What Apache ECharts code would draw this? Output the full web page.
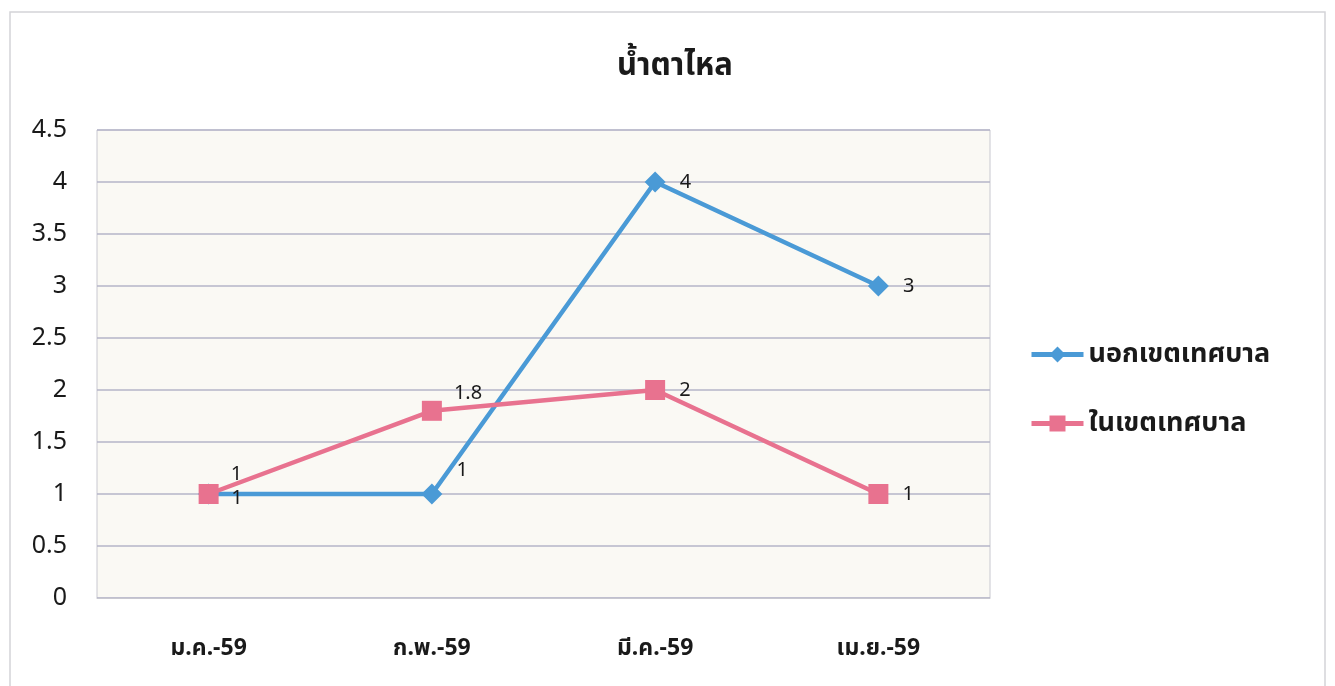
<!DOCTYPE html>
<html><head><meta charset="utf-8">
<script src="https://cdn.jsdelivr.net/npm/echarts@6/dist/echarts.min.js"></script>
<style>html,body{margin:0;padding:0;background:#fff}#c{width:1335px;height:686px}</style>
</head><body><div id="c"></div>
<script>
const title = 'น้ำตาไหล';
const categories = ['ม.ค.-59', 'ก.พ.-59', 'มี.ค.-59', 'เม.ย.-59'];
const outsideName = 'นอกเขตเทศบาล';
const outsideValues = [1, 1, 4, 3];
const insideName = 'ในเขตเทศบาล';
const insideValues = [1, 1.8, 2, 1];
const yTicks = [0, 0.5, 1, 1.5, 2, 2.5, 3, 3.5, 4, 4.5];

// label placement per point (style only)
const outsideLabelOffsets = [[0, 4], [2, -24], [2, 0], [2, 0]];
const insideLabelOffsets = [[0, -20], [0, -18], [2, 0], [2, 0]];

const mk = (vals, offs) => vals.map((v, i) => ({ value: v, label: { offset: offs[i] } }));

const font = '"Noto Sans", "Noto Sans Thai", "Noto Sans CJK SC", sans-serif';
const chart = echarts.init(document.getElementById('c'));
chart.setOption({
  backgroundColor: '#ffffff',
  animation: false,
  textStyle: { fontFamily: font },
  graphic: [{
    type: 'rect', shape: { x: 10, y: 12, width: 1315, height: 690 },
    style: { fill: 'none', stroke: '#d4d4d8', lineWidth: 1.5 }, silent: true
  }],
  title: {
    text: title, left: 670, top: 46, textAlign: 'center',
    textStyle: { fontFamily: font, fontSize: 31, fontWeight: 'bold', color: '#1a1a1a' }
  },
  legend: {
    orient: 'vertical', left: 1024, top: 336, itemGap: 42,
    itemWidth: 52, itemHeight: 20, itemStyle: {},
    lineStyle: { width: 5 },
    textStyle: { fontFamily: font, fontSize: 27, fontWeight: 'bold', color: '#1a1a1a' },
    data: [outsideName, insideName]
  },
  grid: {
    left: 97, right: 345, top: 130, bottom: 88, show: true,
    backgroundColor: '#faf9f4', borderColor: '#c8c8d0', borderWidth: 1
  },
  xAxis: {
    type: 'category', data: categories, boundaryGap: true,
    axisLine: { show: true, lineStyle: { color: '#c8c8d0' } },
    axisTick: { show: false },
    axisLabel: { fontFamily: font, fontSize: 23, fontWeight: 'bold', color: '#1a1a1a', margin: 39 }
  },
  yAxis: {
    type: 'value', min: 0, max: 4.5, interval: 0.5,
    axisLine: { show: false }, axisTick: { show: false },
    splitLine: { lineStyle: { color: '#b4b4c8', width: 1.5 } },
    axisLabel: { fontFamily: font, fontSize: 25, color: '#1a1a1a', margin: 30,
      formatter: v => String(yTicks.find(t => Math.abs(t - v) < 1e-9) ?? v) }
  },
  series: [
    {
      name: outsideName, type: 'line', data: mk(outsideValues, outsideLabelOffsets),
      symbol: 'diamond', symbolSize: 21,
      lineStyle: { color: '#4a9ad6', width: 4.5 },
      itemStyle: { color: '#4a9ad6' },
      label: { show: true, position: 'right', distance: 12, fontFamily: font, fontSize: 20, color: '#1a1a1a' },
      z: 2
    },
    {
      name: insideName, type: 'line', data: mk(insideValues, insideLabelOffsets),
      symbol: 'rect', symbolSize: 20,
      lineStyle: { color: '#e8728f', width: 4.5 },
      itemStyle: { color: '#e8728f' },
      label: { show: true, position: 'right', distance: 12, fontFamily: font, fontSize: 20, color: '#1a1a1a' },
      z: 3
    }
  ]
});
</script></body></html>
